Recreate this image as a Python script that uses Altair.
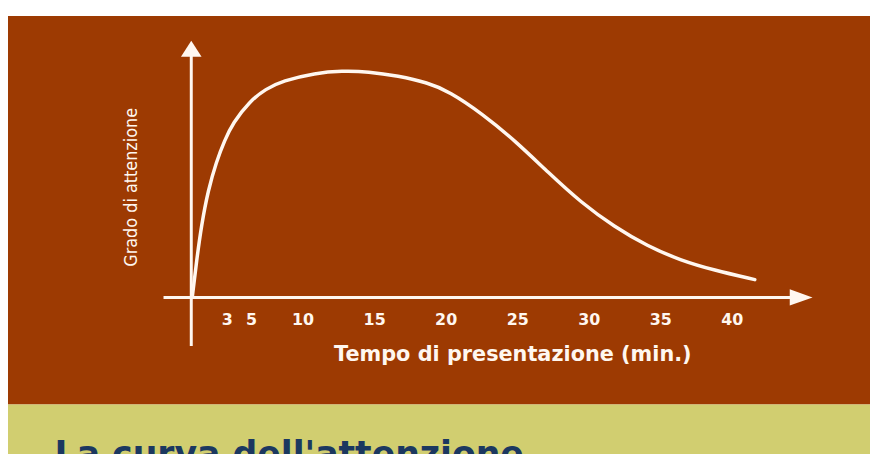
import altair as alt
import pandas as pd

# ---- data ----
minutes = [2.25, 2.55, 2.90, 3.36, 3.93, 4.52, 5.09, 6.25, 7.40, 8.55, 10.86, 12.71,
           14.56, 16.64, 18.72, 20.21, 22.53, 24.83, 27.14, 29.45, 31.76,
           34.07, 36.38, 38.69, 41.58]
attention = [0.0, 16.0, 32.0, 47.0, 59.5, 69.0, 76.5, 86.0, 91.5, 95.0, 98.5, 99.4,
             99.1, 97.2, 94.2, 90.4, 80.6, 68.7, 54.8, 41.5, 31.0,
             22.5, 16.3, 12.0, 7.8]

tick_labels = ["3", "5", "10", "15", "20", "25", "30", "35", "40"]
tick_pos = [4.7, 6.4, 10, 15, 20, 25, 30, 35, 40]

x_title = "Tempo di presentazione (min.)"
y_title = "Grado di attenzione"
caption = "La curva dell'attenzione"

# axis extents (data units)
x_axis_from, x_axis_to, x_arrow = 0.24, 44.3, 44.82
y_axis_at, y_axis_from, y_axis_to, y_arrow = 2.18, -21.3, 106.0, 109.1

# ---- styling ----
W, H = 870, 448
BROWN = "#9D3A02"
GREEN = "#D1CE70"
NAVY = "#1B3860"
WHITE = "#FFF7F0"

xs = alt.Scale(domain=[-10.633, 49.633], nice=False, zero=False)
ys = alt.Scale(domain=[-68.70, 126.09], nice=False, zero=False)

one = pd.DataFrame({"k": [0]})

brown_panel = alt.Chart(one).mark_rect(color=BROWN).encode(
    x=alt.value(-1), x2=alt.value(W), y=alt.value(6), y2=alt.value(398))
green_panel = alt.Chart(one).mark_rect(color=GREEN).encode(
    x=alt.value(-1), x2=alt.value(W), y=alt.value(398), y2=alt.value(H))

xaxis_df = pd.DataFrame({"x": [x_axis_from], "x2": [x_axis_to], "y": [0.0]})
x_axis_line = alt.Chart(xaxis_df).mark_rule(color=WHITE, strokeWidth=3).encode(
    x=alt.X("x:Q", scale=xs, axis=None), x2="x2:Q",
    y=alt.Y("y:Q", scale=ys, axis=None))

yaxis_df = pd.DataFrame({"x": [y_axis_at], "y": [y_axis_from], "y2": [y_axis_to]})
y_axis_line = alt.Chart(yaxis_df).mark_rule(color=WHITE, strokeWidth=3).encode(
    x=alt.X("x:Q", scale=xs, axis=None),
    y=alt.Y("y:Q", scale=ys, axis=None), y2="y2:Q")

xarrow_df = pd.DataFrame({"x": [x_arrow], "y": [0.0]})
x_head = alt.Chart(xarrow_df).mark_point(
    shape="M-1,-0.72L1,0L-1,0.72Z", filled=True, size=529, color=WHITE, opacity=1,
    strokeWidth=0).encode(
    x=alt.X("x:Q", scale=xs, axis=None), y=alt.Y("y:Q", scale=ys, axis=None))

yarrow_df = pd.DataFrame({"x": [y_axis_at], "y": [y_arrow]})
y_head = alt.Chart(yarrow_df).mark_point(
    shape="M0,-1L1.3,1L-1.3,1Z", filled=True, size=256, color=WHITE, opacity=1,
    strokeWidth=0).encode(
    x=alt.X("x:Q", scale=xs, axis=None), y=alt.Y("y:Q", scale=ys, axis=None))

curve_df = pd.DataFrame({"m": minutes, "a": attention})
curve = alt.Chart(curve_df).mark_line(
    color=WHITE, strokeWidth=3.5, interpolate="basis", strokeCap="round").encode(
    x=alt.X("m:Q", scale=xs, axis=None), y=alt.Y("a:Q", scale=ys, axis=None))

ticks_df = pd.DataFrame({"x": tick_pos, "t": tick_labels, "y": [-10.0] * len(tick_pos)})
ticks = alt.Chart(ticks_df).mark_text(
    font="DejaVu Sans", fontWeight="bold", fontSize=16, color=WHITE,
    align="center", baseline="middle").encode(
    x=alt.X("x:Q", scale=xs, axis=None), y=alt.Y("y:Q", scale=ys, axis=None), text="t:N")

xt_df = pd.DataFrame({"x": [24.66], "y": [-25.4], "t": [x_title]})
xt = alt.Chart(xt_df).mark_text(
    font="DejaVu Sans", fontWeight="bold", fontSize=21, color=WHITE,
    align="center", baseline="middle").encode(
    x=alt.X("x:Q", scale=xs, axis=None), y=alt.Y("y:Q", scale=ys, axis=None), text="t:N")

yt_df = pd.DataFrame({"x": [-1.95], "y": [48.3], "t": [y_title]})
yt = alt.Chart(yt_df).mark_text(
    font="Liberation Sans Narrow, DejaVu Sans Condensed, sans-serif", fontSize=18,
    color=WHITE, angle=270, align="center", baseline="middle").encode(
    x=alt.X("x:Q", scale=xs, axis=None), y=alt.Y("y:Q", scale=ys, axis=None), text="t:N")

cap_df = pd.DataFrame({"t": [caption]})
cap = alt.Chart(cap_df).mark_text(
    font="DejaVu Sans", fontWeight="bold", fontSize=35, color=NAVY,
    align="left", baseline="alphabetic", clip=True).encode(
    x=alt.value(47), y=alt.value(460), text="t:N")

chart = alt.layer(
    brown_panel, green_panel, x_axis_line, y_axis_line, curve, x_head, y_head,
    ticks, xt, yt, cap
).properties(
    width=W, height=H, padding=0, background="white",
    autosize=alt.AutoSizeParams(type="none")
).configure_view(stroke=None)

chart.save("out.html", embed_options={"renderer": "svg", "actions": False})
